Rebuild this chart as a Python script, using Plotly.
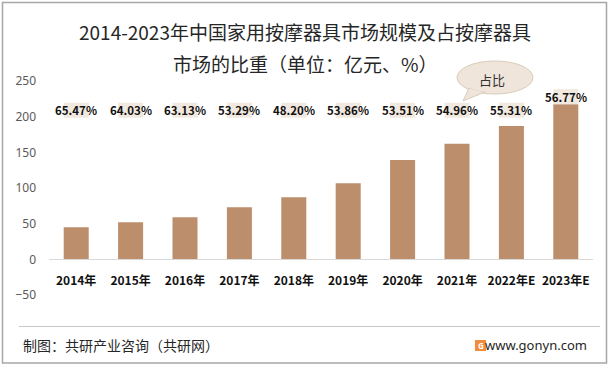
import plotly.graph_objects as go

years = ["2014年", "2015年", "2016年", "2017年", "2018年", "2019年", "2020年", "2021年", "2022年E", "2023年E"]
market_size = [45, 52, 59, 73, 87, 106.6, 139.4, 162, 187, 217.5]
share_labels = ["65.47%", "64.03%", "63.13%", "53.29%", "48.20%", "53.86%", "53.51%", "54.96%", "55.31%", "56.77%"]
y_ticks = [-50, 0, 50, 100, 150, 200, 250]

BAR_COLOR = "#bc8e6c"
BOX_COLOR = "#f1e8df"
CJK = "Noto Sans CJK SC"

LABEL_LEVEL = 198.6
BOX_H = 21
box_base = [max(LABEL_LEVEL, v) for v in market_size]

fig = go.Figure()
fig.add_trace(go.Bar(x=years, y=market_size, marker=dict(color=BAR_COLOR, line=dict(width=0)),
                     hoverinfo="skip", showlegend=False))
fig.add_trace(go.Bar(x=years, y=[BOX_H] * len(years), base=box_base,
                     marker=dict(color=BOX_COLOR, line=dict(width=0)),
                     hoverinfo="skip", showlegend=False))

for x, b, t in zip(years, box_base, share_labels):
    fig.add_annotation(x=x, y=b + BOX_H / 2, text=t, showarrow=False, xref="x", yref="y",
                       xanchor="center", yanchor="middle",
                       font=dict(family=CJK, size=11.5, color="#111111", weight="bold"))

ML, MR, MT, MB = 49, 20, 81, 75
W, H = 613, 370
PW, PH = W - ML - MR, H - MT - MB


def px(x):
    return (x - ML) / PW


def py(y):
    return (H - MB - y) / PH


def note(x, y, text, font, xanchor="center"):
    fig.add_annotation(x=px(x), y=py(y), xref="paper", yref="paper", showarrow=False,
                       xanchor=xanchor, yanchor="middle", text=text, font=font)


# titles
note(305, 32, "2014-2023年中国家用按摩器具市场规模及占按摩器具", dict(family=CJK, size=19, color="#262626"))
note(305, 63, "市场的比重（单位：亿元、%）", dict(family=CJK, size=19, color="#262626"))

# callout bubble
BUB_FILL, BUB_LINE = "#efe5da", "#d9cbb8"
fig.add_shape(type="circle", xref="paper", yref="paper", x0=px(457), x1=px(533), y0=py(94), y1=py(61),
              fillcolor=BUB_FILL, line=dict(color=BUB_LINE, width=1), layer="above")
fig.add_shape(type="path", xref="paper", yref="paper",
              path=f"M {px(469)} {py(88)} L {px(463)} {py(101)} L {px(485)} {py(92)} Z",
              fillcolor=BUB_FILL, line=dict(color=BUB_LINE, width=1), layer="above")
fig.add_shape(type="circle", xref="paper", yref="paper", x0=px(458.5), x1=px(531.5), y0=py(92.5), y1=py(62.5),
              fillcolor=BUB_FILL, line=dict(width=0), layer="above")
note(492, 79, "占比", dict(family=CJK, size=13, color="#333333"))

# footer
fig.add_shape(type="line", xref="paper", yref="paper", x0=px(19), x1=px(600), y0=py(326.5), y1=py(326.5),
              line=dict(color="#c8c8c8", width=1))
note(21, 345, "制图：共研产业咨询（共研网）", dict(family=CJK, size=14, color="#262626"), xanchor="left")
note(589, 345, "www.gonyn.com", dict(family="Noto Sans", size=13, color="#262626"), xanchor="right")
fig.add_shape(type="rect", xref="paper", yref="paper", x0=px(475), x1=px(486), y0=py(351), y1=py(340),
              fillcolor="#f28b3a", line=dict(width=0))
note(480.5, 345.5, "G", dict(family="Noto Sans", size=8, color="white", weight="bold"))

# outer border
fig.add_shape(type="rect", xref="paper", yref="paper", x0=px(2.5), x1=px(606.5), y0=py(363), y1=py(2.5),
              line=dict(color="#a6a6a6", width=1.5), fillcolor="rgba(0,0,0,0)")

fig.update_layout(
    width=W, height=H, margin=dict(l=ML, r=MR, t=MT, b=MB),
    paper_bgcolor="white", plot_bgcolor="white",
    barmode="overlay", bargap=0.54,
    xaxis=dict(anchor="free", position=50 / 300, showline=True, linecolor="#d9d9d9", linewidth=1,
               ticks="", showgrid=False, ticklabelstandoff=10, automargin=False,
               tickfont=dict(family=CJK, size=12, color="#111111", weight="bold")),
    yaxis=dict(range=[-50, 250], tickvals=y_ticks, showgrid=False, zeroline=False, showline=False,
               ticks="", automargin=False,
               tickfont=dict(family="Noto Sans", size=12, color="#595959"), ticklabelstandoff=12),
)

fig.write_html("out.html", config={"displayModeBar": False},
               post_script="document.body.style.margin='0';document.body.style.overflow='hidden';")
